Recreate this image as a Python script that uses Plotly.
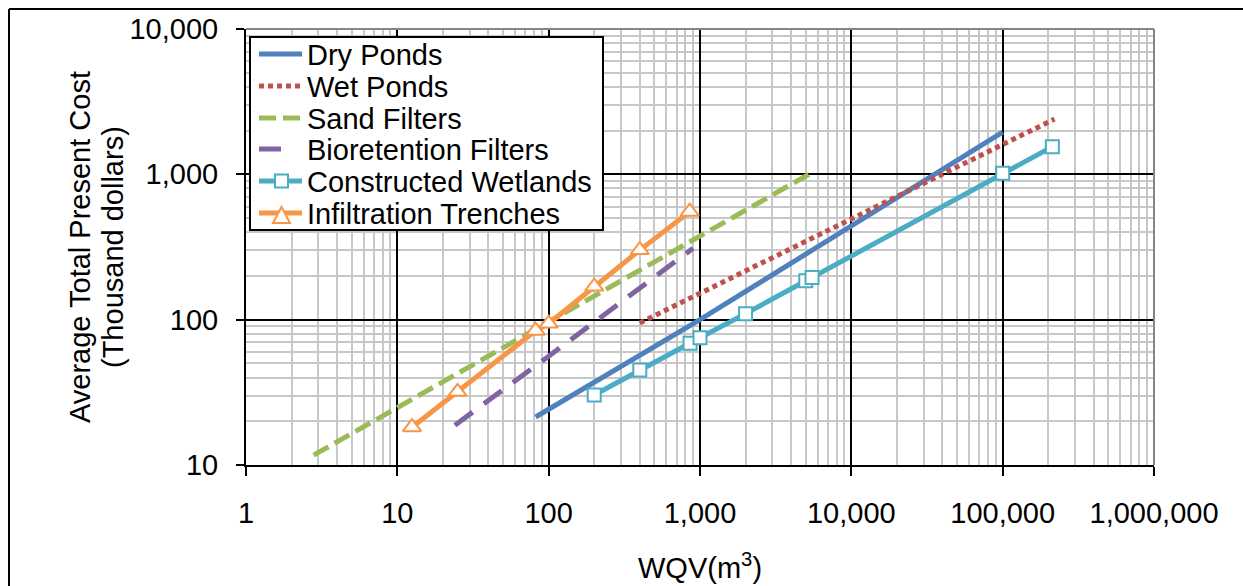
import plotly.graph_objects as go

# ---- data ----
dry_x = [82, 1000, 100000]
dry_y = [21.4, 100, 1950]
wet_x = [400, 10000, 220000]
wet_y = [95, 490, 2400]
sand_x = [2.8, 100, 5600]
sand_y = [11.7, 97, 1040]
bio_x = [24, 100, 900]
bio_y = [18.8, 56, 310]
cw_x = [200, 400, 860, 1000, 2000, 5000, 5500, 100000, 213000]
cw_y = [30.3, 45, 68.7, 75, 110, 185, 195, 1016, 1549]
it_x = [12.5, 25, 82, 100, 200, 400, 855]
it_y = [18.2, 31.9, 84, 94, 169, 301, 553]

series_names = ["Dry Ponds", "Wet Ponds", "Sand Filters", "Bioretention Filters",
                "Constructed Wetlands", "Infiltration Trenches"]
series_colors = ["#4F81BD", "#C0504D", "#9BBB59", "#8064A2", "#4BACC6", "#F79646"]
series_dash = [None, "5px,4px", "17px,7px", "22px,14px", None, None]

x_tickvals = [1, 10, 100, 1000, 10000, 100000, 1000000]
x_ticktext = ["1", "10", "100", "1,000", "10,000", "100,000", "1,000,000"]
y_tickvals = [10, 100, 1000, 10000]
y_ticktext = ["10", "100", "1,000", "10,000"]

FONT = "Arial, Liberation Sans, sans-serif"
FS = 29

L, R, T, B = 246, 1243 - 1154, 29, 586 - 465
W = 1243 - L - R
H = 586 - T - B


def px(xp):
    return (xp - L) / W


def py(yp):
    return (465 - yp) / H


fig = go.Figure()
xs = [dry_x, wet_x, sand_x, bio_x, cw_x, it_x]
ys = [dry_y, wet_y, sand_y, bio_y, cw_y, it_y]
for i in range(6):
    line = dict(color=series_colors[i], width=5)
    if series_dash[i]:
        line["dash"] = series_dash[i]
    kw = {}
    mode = "lines"
    if i == 4:
        mode = "lines+markers"
        kw["marker"] = dict(symbol="square", size=13, color="white",
                            line=dict(color=series_colors[i], width=2))
    if i == 5:
        mode = "lines+markers"
        kw["marker"] = dict(symbol="triangle-up", size=16, color="white",
                            line=dict(color=series_colors[i], width=2))
    fig.add_trace(go.Scatter(x=xs[i], y=ys[i], mode=mode, name=series_names[i],
                             line=line, **kw))

# ---- manual legend (Excel-like compact rows) ----
shapes = [
    # gray top/right plot border
    dict(type="line", xref="paper", yref="paper", x0=0, x1=1, y0=1, y1=1,
         line=dict(color="#868686", width=2)),
    dict(type="line", xref="paper", yref="paper", x0=1, x1=1, y0=0, y1=1,
         line=dict(color="#868686", width=2)),
    # outer chart frame (top and left edges visible)
    dict(type="line", xref="paper", yref="paper",
         x0=px(9), x1=2, y0=py(9), y1=py(9), line=dict(color="black", width=2)),
    dict(type="line", xref="paper", yref="paper",
         x0=px(9), x1=px(9), y0=py(9), y1=-1, line=dict(color="black", width=2)),
    # legend box
    dict(type="rect", xref="paper", yref="paper", layer="above",
         x0=px(250), x1=px(603), y0=py(230), y1=py(37),
         fillcolor="white", line=dict(color="black", width=2)),
]
annotations = []
row_y = [54, 86, 118, 149, 181, 213]
for i in range(6):
    yy = row_y[i]
    x1 = 302 if i != 3 else 285
    ln = dict(color=series_colors[i], width=5)
    if series_dash[i]:
        ln["dash"] = series_dash[i]
    shapes.append(dict(type="line", xref="paper", yref="paper", layer="above",
                       x0=px(259), x1=px(x1), y0=py(yy), y1=py(yy), line=ln))
    annotations.append(dict(text=series_names[i], x=px(305), y=py(yy + 1),
                            xref="paper", yref="paper", xanchor="left", yanchor="middle",
                            showarrow=False,
                            font=dict(family=FONT, size=FS, color="black")))
# legend marker samples
shapes.append(dict(type="rect", xref="paper", yref="paper", layer="above",
                   x0=px(275), x1=px(288), y0=py(row_y[4] + 6.5), y1=py(row_y[4] - 6.5),
                   fillcolor="white", line=dict(color=series_colors[4], width=2)))
ty = row_y[5]
shapes.append(dict(type="path", xref="paper", yref="paper", layer="above",
                   path=f"M {px(273)},{py(ty + 10)} L {px(290)},{py(ty + 10)} L {px(281.5)},{py(ty - 6)} Z",
                   fillcolor="white", line=dict(color=series_colors[5], width=2)))

annotations += [
    dict(text="Average Total Present Cost", textangle=-90,
         x=px(80), y=0.5, xref="paper", yref="paper",
         xanchor="center", yanchor="middle", showarrow=False,
         font=dict(family=FONT, size=FS, color="black")),
    dict(text="(Thousand dollars)", textangle=-90,
         x=px(113), y=0.5, xref="paper", yref="paper",
         xanchor="center", yanchor="middle", showarrow=False,
         font=dict(family=FONT, size=FS, color="black")),
    dict(text="WQV(m<sup>3</sup>)",
         x=0.5, y=py(566), xref="paper", yref="paper",
         xanchor="center", yanchor="middle", showarrow=False,
         font=dict(family=FONT, size=FS, color="black")),
]

fig.update_layout(
    width=1243, height=586,
    margin=dict(l=L, r=R, t=T, b=B, pad=0),
    paper_bgcolor="white", plot_bgcolor="white",
    font=dict(family=FONT, size=FS, color="black"),
    showlegend=False,
    xaxis=dict(type="log", range=[0, 6], tickmode="array",
               tickvals=x_tickvals, ticktext=x_ticktext,
               showgrid=True, gridcolor="black", gridwidth=1.5,
               minor=dict(dtick="D1", showgrid=True, gridcolor="#C8C8C8", gridwidth=2, ticks=""),
               showline=True, linecolor="black", linewidth=2,
               ticks="outside", ticklen=9, tickcolor="black", tickwidth=2,
               ticklabelstandoff=12,
               tickfont=dict(family=FONT, size=FS), zeroline=False),
    yaxis=dict(type="log", range=[1, 4], tickmode="array",
               tickvals=y_tickvals, ticktext=y_ticktext,
               showgrid=True, gridcolor="black", gridwidth=1.5,
               minor=dict(dtick="D1", showgrid=True, gridcolor="#C8C8C8", gridwidth=2, ticks=""),
               showline=True, linecolor="black", linewidth=2,
               ticks="outside", ticklen=8, tickcolor="black", tickwidth=2,
               ticklabelstandoff=12,
               tickfont=dict(family=FONT, size=FS), zeroline=False),
    annotations=annotations,
    shapes=shapes,
)

fig.write_html("out.html")
